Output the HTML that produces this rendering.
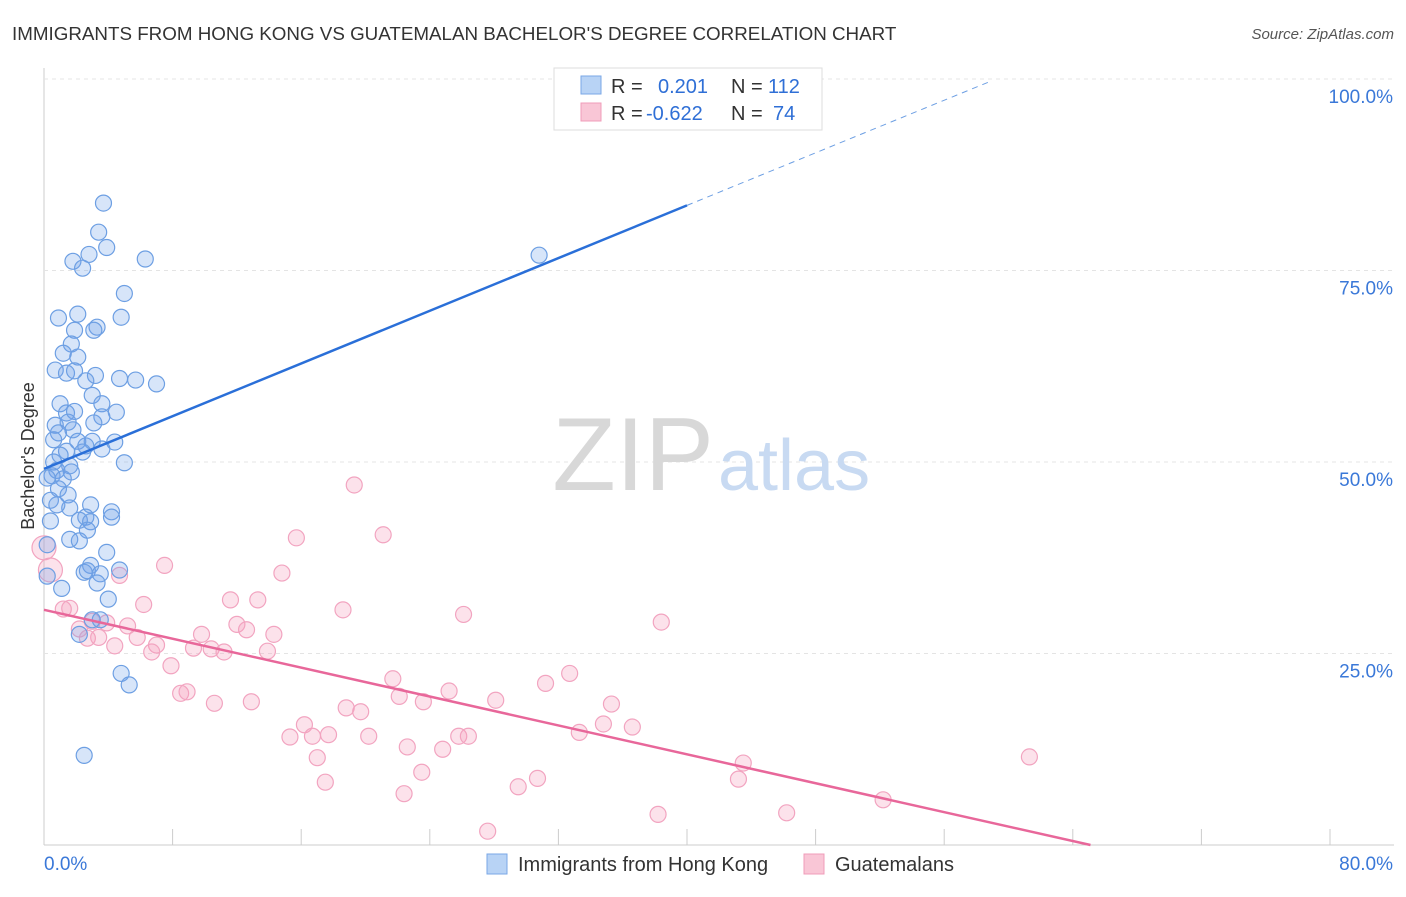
<!DOCTYPE html>
<html><head><meta charset="utf-8"><style>
body{margin:0;background:#fff;font-family:"Liberation Sans",sans-serif;}
svg text{font-family:"Liberation Sans",sans-serif;}
</style></head><body>
<svg id="chart" width="1406" height="892">
<text x="12" y="40" font-size="18.8" fill="#333">IMMIGRANTS FROM HONG KONG VS GUATEMALAN BACHELOR'S DEGREE CORRELATION CHART</text>
<text x="1394" y="39" font-size="15" fill="#555" font-style="italic" text-anchor="end">Source: ZipAtlas.com</text>
<g id="grid"></g>
<text x="714" y="490" font-size="104" fill="#d8d8d8" font-family="Liberation Serif" text-anchor="end">ZIP</text>
<text x="718" y="490" font-size="72" fill="#c8daf2">atlas</text>
<text x="34" y="456" font-size="18" fill="#333" text-anchor="middle" transform="rotate(-90 34 456)">Bachelor's Degree</text>
<g id="pts"></g>
<g id="lines"></g>
<g>
<rect x="554" y="68" width="268" height="62" fill="#fff" stroke="#ddd"/>
<rect x="581" y="76" width="20" height="18" fill="#b8d3f5" stroke="#7aa7e6"/>
<rect x="581" y="103" width="20" height="18" fill="#f9c6d6" stroke="#f09cb9"/>
<text x="611" y="93" font-size="20" fill="#333">R = </text><text x="658" y="93" font-size="20" fill="#2f6fd6">0.201</text>
<text x="731" y="93" font-size="20" fill="#333">N = </text><text x="768" y="93" font-size="20" fill="#2f6fd6">112</text>
<text x="611" y="120" font-size="20" fill="#333">R = </text><text x="646" y="120" font-size="20" fill="#2f6fd6">-0.622</text>
<text x="731" y="120" font-size="20" fill="#333">N = </text><text x="773" y="120" font-size="20" fill="#2f6fd6">74</text>
</g>
<g>
<rect x="487" y="854" width="20" height="20" fill="#b8d3f5" stroke="#7aa7e6"/>
<text x="518" y="871" font-size="20" fill="#333">Immigrants from Hong Kong</text>
<rect x="804" y="854" width="20" height="20" fill="#f9c6d6" stroke="#f09cb9"/>
<text x="835" y="871" font-size="20" fill="#333">Guatemalans</text>
</g>
</svg>
<script>
const blueX=[3.7,3.4,3.9,2.8,1.8,6.3,2.4,30.8,5.0,4.8,0.9,2.1,1.9,3.3,3.1,1.7,1.2,2.1,0.7,1.4,1.9,3.2,4.7,5.7,7.0,2.6,3.0,1.0,3.6,4.5,1.4,1.9,3.6,0.7,1.5,3.1,0.9,1.8,0.6,2.1,3.0,4.4,2.6,1.4,1.0,2.4,3.6,0.6,1.6,5.0,0.8,1.7,0.5,1.2,0.2,0.9,1.5,0.4,2.9,1.6,0.8,4.2,4.2,2.6,0.4,2.2,2.9,2.7,1.6,2.2,0.2,3.9,2.9,4.7,2.5,2.7,3.5,0.2,3.3,1.1,4.0,3.0,3.5,2.2,4.8,5.3,2.5];
const blueY=[83.8,80.0,78.0,77.1,76.2,76.5,75.3,77.0,72.0,68.9,68.8,69.3,67.2,67.6,67.2,65.4,64.2,63.7,62.0,61.6,61.9,61.3,60.9,60.7,60.2,60.6,58.7,57.6,57.6,56.5,56.4,56.6,55.9,54.8,55.2,55.1,53.8,54.2,52.9,52.7,52.7,52.6,52.1,51.4,50.9,51.3,51.7,50.0,49.5,49.9,48.9,48.7,48.2,47.8,47.9,46.5,45.7,45.0,44.4,44.0,44.4,43.5,42.8,42.8,42.3,42.4,42.2,41.1,39.9,39.7,39.2,38.2,36.5,35.9,35.6,35.8,35.4,35.1,34.2,33.5,32.1,29.4,29.4,27.5,22.4,20.9,11.7];
const pinkX=[0,0.4,19.3,15.7,21.1,7.5,4.7,14.8,1.2,1.6,6.2,11.6,13.3,18.6,26.1,38.4,3.0,3.9,5.2,2.2,12.0,12.6,9.8,14.3,2.7,3.4,5.8,4.4,7.0,6.7,9.3,10.4,11.2,13.9,7.9,21.7,32.7,31.2,8.5,8.9,22.1,25.2,28.1,35.3,10.6,12.9,23.6,18.8,19.7,16.2,34.8,36.6,33.3,15.3,16.7,17.7,20.2,25.8,26.4,22.6,24.8,17.0,43.5,61.3,23.5,17.5,30.7,43.2,29.5,22.4,52.2,38.2,46.2,27.6];
const pinkY=[38.8,35.9,47.0,40.1,40.5,36.5,35.2,35.5,30.8,30.9,31.4,32.0,32.0,30.7,30.1,29.1,29.2,29.0,28.6,28.2,28.8,28.1,27.5,27.5,27.0,27.1,27.1,26.0,26.1,25.2,25.7,25.6,25.2,25.3,23.4,21.7,22.4,21.1,19.8,20.0,19.4,20.1,18.9,18.4,18.5,18.7,18.7,17.9,17.4,15.7,15.8,15.4,14.7,14.1,14.2,14.4,14.2,14.2,14.2,12.8,12.5,11.4,10.7,11.5,9.5,8.2,8.7,8.6,7.6,6.7,5.9,4.0,4.2,1.8];
const blueLine=[[0,49.1],[40,83.5],[59,99.8]];
const pinkLine=[[0,30.7],[65.1,0]];
const yTicks=[25,50,75,100];
const yTickLabels=["25.0%","50.0%","75.0%","100.0%"];
const xTicks=[0,8,16,24,32,40,48,56,64,72,80];
const NS="http://www.w3.org/2000/svg";
const sx=v=>44+v*1286/80, sy=v=>845-v*7.66;
function mk(t,a,p){const e=document.createElementNS(NS,t);for(const k in a)e.setAttribute(k,a[k]);p.appendChild(e);return e;}
const g=document.getElementById('grid');
mk('line',{x1:44,y1:68,x2:44,y2:845,stroke:'#ccc'},g);
mk('line',{x1:44,y1:845,x2:1394,y2:845,stroke:'#ccc'},g);
yTicks.forEach((v,i)=>{
 const l=mk('line',{x1:44,y1:sy(v),x2:1394,y2:sy(v),stroke:'#e4e4e4','stroke-dasharray':'4,4'},g);
 
 
 const t=mk('text',{x:1393,y:sy(v)+24,'font-size':19,fill:'#3a78d8','text-anchor':'end'},g);t.textContent=yTickLabels[i];
 
 
});
xTicks.forEach(v=>{
 const l=mk('line',{x1:sx(v),y1:829,x2:sx(v),y2:845,stroke:'#ccc'},g);
 
 
});
const t0=mk('text',{x:44,y:870,'font-size':19,fill:'#3a78d8'},g);t0.textContent='0.0%';


const t1=mk('text',{x:1393,y:870,'font-size':19,fill:'#3a78d8','text-anchor':'end'},g);t1.textContent='80.0%';


const P=document.getElementById('pts');
pinkX.forEach((x,i)=>{const r=i<2?12:8;const c=mk('circle',{cx:sx(x),cy:sy(pinkY[i]),r:r,fill:'rgba(244,160,190,0.3)',stroke:'#f2a4c0','stroke-width':1.2},P);
 
 });
blueX.forEach((x,i)=>{const c=mk('circle',{cx:sx(x),cy:sy(blueY[i]),r:8,fill:'rgba(110,160,235,0.28)',stroke:'#6d9fe3','stroke-width':1.2},P);
 
 });
const L=document.getElementById('lines');
const b1=mk('line',{x1:sx(blueLine[0][0]),y1:sy(blueLine[0][1]),x2:sx(blueLine[1][0]),y2:sy(blueLine[1][1]),stroke:'#2a6fd8','stroke-width':2.5},L);


const b2=mk('line',{x1:sx(blueLine[1][0]),y1:sy(blueLine[1][1]),x2:sx(blueLine[2][0]),y2:sy(blueLine[2][1]),stroke:'#6d9fe3','stroke-width':1,'stroke-dasharray':'6,5'},L);


const p1=mk('line',{x1:sx(pinkLine[0][0]),y1:sy(pinkLine[0][1]),x2:sx(pinkLine[1][0]),y2:sy(pinkLine[1][1]),stroke:'#e8679a','stroke-width':2.5},L);


</script>
</body></html>
